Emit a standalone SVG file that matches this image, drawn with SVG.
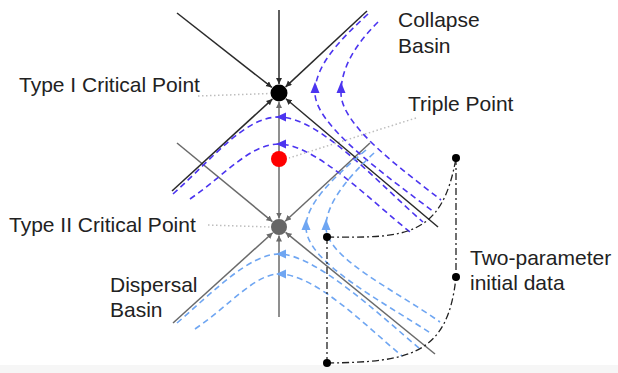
<svg xmlns="http://www.w3.org/2000/svg" width="618" height="373" viewBox="0 0 618 373">
<style>
text{font-family:"Liberation Sans",Arial,sans-serif;font-size:21px;fill:#222}
.dk{stroke:#2a2a2a;stroke-width:1.5;fill:none;marker-end:url(#ad)}
.gr{stroke:#6a6a6a;stroke-width:1.5;fill:none;marker-end:url(#ag)}
.cb{stroke:#4b34f0;stroke-width:1.6;fill:none;stroke-dasharray:6 4}
.db{stroke:#6fa6f2;stroke-width:1.6;fill:none;stroke-dasharray:6 4}
.cba{fill:#4b34f0}
.dba{fill:#6fa6f2}
.ld{stroke:#bdbdbd;stroke-width:1.5;fill:none;stroke-dasharray:1.5 2.5}
.dd{stroke:#222;stroke-width:1.3;fill:none;stroke-dasharray:7 3 2 3}
.pt{fill:#000}
</style>
<defs>
<marker id="ad" markerUnits="userSpaceOnUse" markerWidth="7" markerHeight="7" refX="6" refY="3" orient="auto"><path d="M0,0 L6,3 L0,6 z" fill="#2a2a2a"/></marker>
<marker id="ag" markerUnits="userSpaceOnUse" markerWidth="7" markerHeight="7" refX="6" refY="3" orient="auto"><path d="M0,0 L6,3 L0,6 z" fill="#6a6a6a"/></marker>
</defs>
<rect x="0" y="0" width="618" height="373" fill="#fff"/>
<rect x="0" y="365" width="618" height="8" fill="#f6f6f6"/>
<g id="connectors">
<!-- leaders -->
<path class="ld" d="M198 96 L270 93.5"/>
<path class="ld" d="M416 118 L289 158"/>
<path class="ld" d="M208 225 L270 227"/>
<!-- Type II separatrices -->
<path class="gr" d="M177 143 L272.4 221.6"/>
<path class="gr" d="M370 143 L285.2 221.2"/>
<path class="gr" d="M173 323 L272.7 232.7"/>
<path class="gr" d="M435 354 L285.6 232.4"/>
<path class="gr" d="M279 317 L279 235.5"/>
<path class="gr" d="M279 160 L279 218.5"/>
<path class="gr" d="M279 158 L279 102"/>
<!-- Type I separatrices -->
<path class="dk" d="M279 10 L279 84"/>
<path class="dk" d="M177 13 L271.9 87.4"/>
<path class="dk" d="M367 11 L285.6 86.9"/>
<path class="dk" d="M172 191 L272.4 99.1"/>
<path class="dk" d="M438 227 L285.9 98.8"/>
<!-- collapse basin curves -->
<path class="cb" d="M368 14 C340 40 315 65 315 93 C315 125 385 175 434 212"/>
<path class="cb" d="M378 22 C355 45 341 68 341 93 C341 125 400 168 441 200"/>
<path class="cb" d="M173 194 C215 156 245 117 279 117 C320 117 380 185 423 222"/>
<path class="cb" d="M190 199 C225 175 250 144 279 144 C315 144 370 200 410 232"/>
<polygon class="cba" points="315,82 310.5,93 319.5,93"/>
<polygon class="cba" points="341,82 336.5,93 345.5,93"/>
<polygon class="cba" points="276,117 286,112.5 286,121.5"/>
<polygon class="cba" points="276,144 286,139.5 286,148.5"/>
<!-- dispersal basin curves -->
<path class="db" d="M366 150 C330 180 306 205 306 227 C306 262 380 300 432 334"/>
<path class="db" d="M374 153 C345 180 326 205 326 227 C326 258 395 290 440 322"/>
<path class="db" d="M177 323 C215 290 250 254 279 254 C315 254 380 315 420 349"/>
<path class="db" d="M195 329 C230 305 255 274 279 274 C315 274 365 325 402 356"/>
<polygon class="dba" points="306,219 301.5,230 310.5,230"/>
<polygon class="dba" points="326,219 321.5,230 330.5,230"/>
<polygon class="dba" points="276,254 286,249.5 286,258.5"/>
<polygon class="dba" points="276,274 286,269.5 286,278.5"/>
<!-- two-parameter initial data -->
<path class="dd" d="M327 237 L327 363"/>
<path class="dd" d="M456 158 L456 277"/>
<path class="dd" d="M327 237 C405 238 442 238 456 158"/>
<path class="dd" d="M327 363 C410 362 448 355 456 277"/>
</g>
<g id="type1"><circle cx="279" cy="93" r="8.5" fill="#000"/></g>
<g id="triple"><circle cx="279" cy="159" r="8" fill="#ff0000"/></g>
<g id="type2"><circle cx="279" cy="227" r="8" fill="#666"/></g>
<g id="data-points">
<circle class="pt" cx="327" cy="237" r="4"/>
<circle class="pt" cx="456" cy="158" r="4"/>
<circle class="pt" cx="456" cy="277" r="4"/>
<circle class="pt" cx="327" cy="363" r="4"/>
</g>
<g id="labels">
<text x="19" y="92">Type I Critical Point</text>
<text x="9" y="232">Type II Critical Point</text>
<text x="398" y="27">Collapse</text>
<text x="398" y="53">Basin</text>
<text x="408" y="111">Triple Point</text>
<text x="110" y="292">Dispersal</text>
<text x="110" y="317">Basin</text>
<text x="470" y="265">Two-parameter</text>
<text x="470" y="290">initial data</text>
</g>
</svg>
